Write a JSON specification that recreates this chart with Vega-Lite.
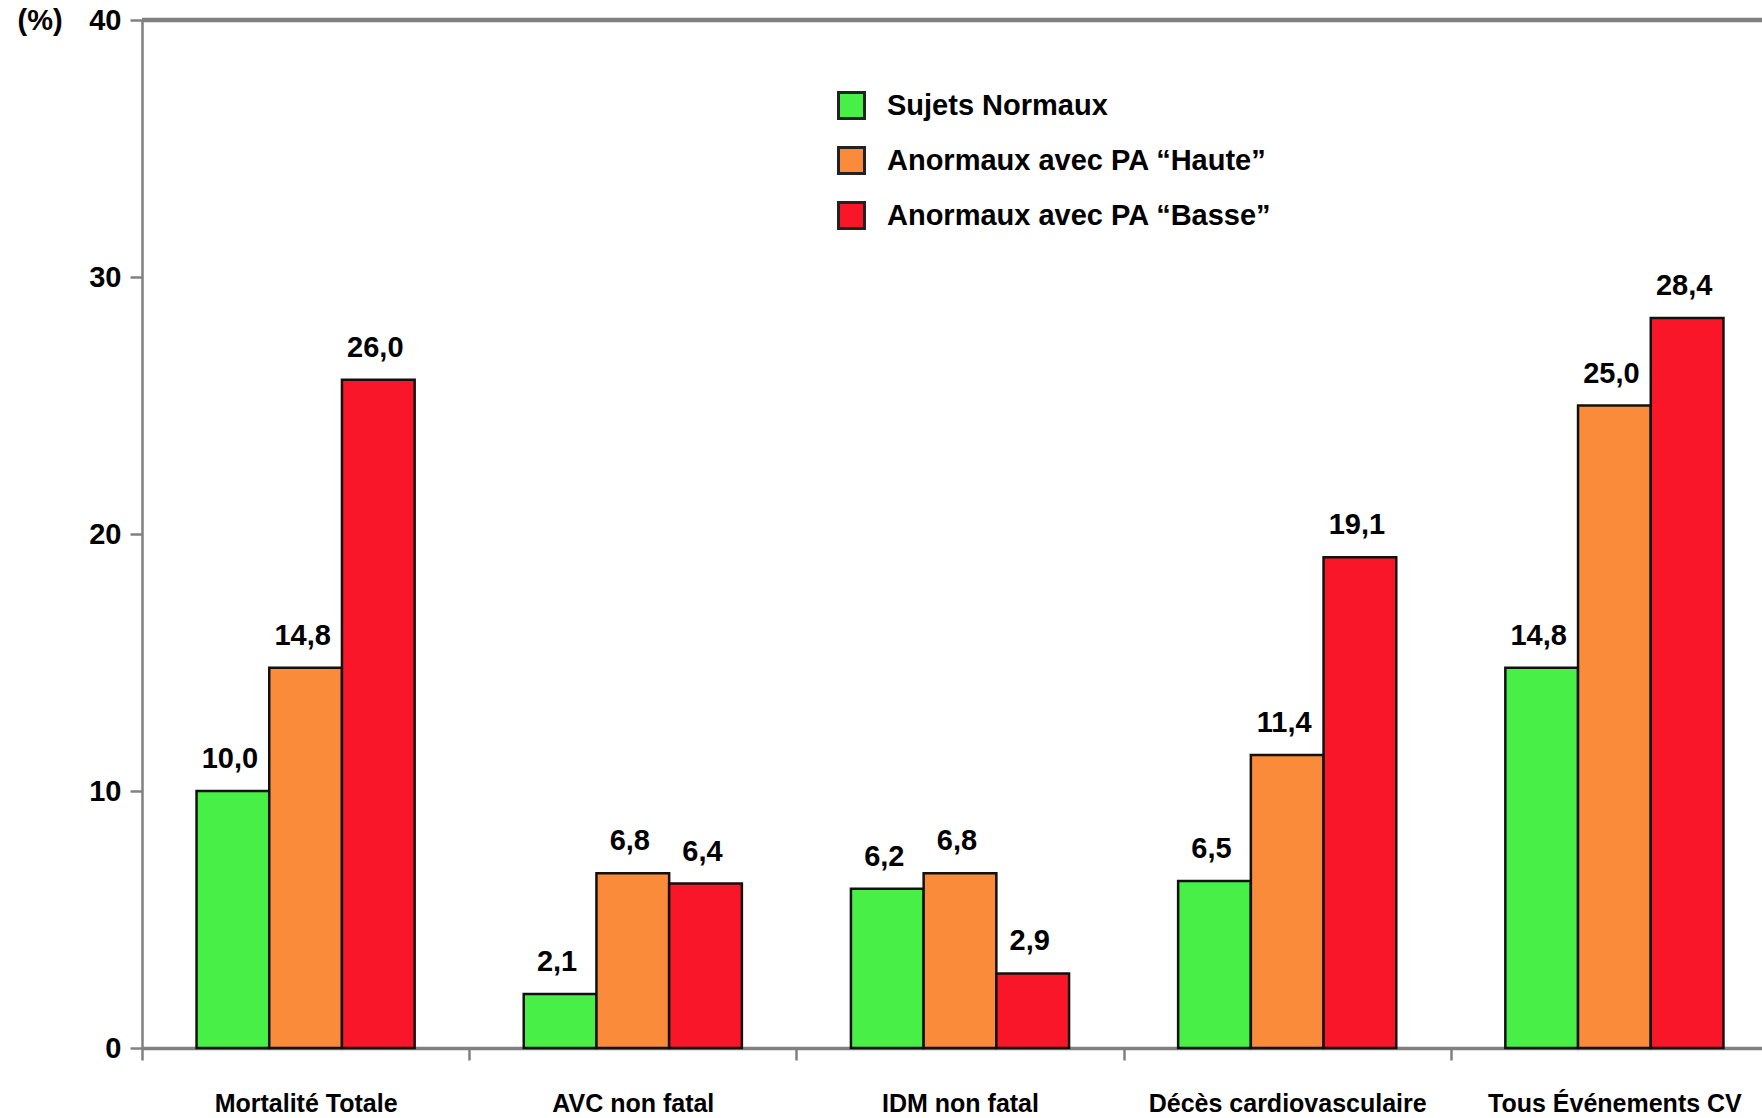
{
  "$schema": "https://vega.github.io/schema/vega-lite/v6.json",
  "autosize": {"type": "none"},
  "padding": {"left": 142, "top": 20, "right": 0, "bottom": 70},
  "width": 1620,
  "height": 1028,
  "background": "white",
  "config": {
    "view": {"stroke": null},
    "font": "Liberation Sans",
    "locale": {"number": {"decimal": ",", "thousands": " ", "grouping": [3], "currency": ["", " €"]}}
  },
  "data": {
    "values": [
      {"cat": "Mortalité Totale", "grp": "Sujets Normaux", "v": 10.0},
      {"cat": "Mortalité Totale", "grp": "Anormaux avec PA “Haute”", "v": 14.8},
      {"cat": "Mortalité Totale", "grp": "Anormaux avec PA “Basse”", "v": 26.0},
      {"cat": "AVC non fatal", "grp": "Sujets Normaux", "v": 2.1},
      {"cat": "AVC non fatal", "grp": "Anormaux avec PA “Haute”", "v": 6.8},
      {"cat": "AVC non fatal", "grp": "Anormaux avec PA “Basse”", "v": 6.4},
      {"cat": "IDM non fatal", "grp": "Sujets Normaux", "v": 6.2},
      {"cat": "IDM non fatal", "grp": "Anormaux avec PA “Haute”", "v": 6.8},
      {"cat": "IDM non fatal", "grp": "Anormaux avec PA “Basse”", "v": 2.9},
      {"cat": "Décès cardiovasculaire", "grp": "Sujets Normaux", "v": 6.5},
      {"cat": "Décès cardiovasculaire", "grp": "Anormaux avec PA “Haute”", "v": 11.4},
      {"cat": "Décès cardiovasculaire", "grp": "Anormaux avec PA “Basse”", "v": 19.1},
      {"cat": "Tous Événements CV", "grp": "Sujets Normaux", "v": 14.8},
      {"cat": "Tous Événements CV", "grp": "Anormaux avec PA “Haute”", "v": 25.0},
      {"cat": "Tous Événements CV", "grp": "Anormaux avec PA “Basse”", "v": 28.4}
    ]
  },
  "encoding": {
    "x": {
      "field": "cat", "type": "nominal", "sort": null,
      "scale": {"paddingInner": 0, "paddingOuter": 0, "range": [0, 1636]},
      "axis": {
        "title": null, "labelAngle": 0, "tickBand": "extent",
        "domainColor": "#808080", "domainWidth": 3.5,
        "tickColor": "#808080", "tickWidth": 2.5, "tickSize": 12,
        "labelFont": "Liberation Sans", "labelFontWeight": "bold",
        "labelFontSize": 25, "labelColor": "black", "labelPadding": 31, "labelLimit": 0
      }
    },
    "xOffset": {
      "field": "grp", "type": "nominal",
      "sort": ["Sujets Normaux", "Anormaux avec PA “Haute”", "Anormaux avec PA “Basse”"],
      "scale": {"paddingInner": 0, "paddingOuter": 0.75}
    },
    "y": {
      "field": "v", "type": "quantitative",
      "scale": {"domain": [0, 40], "nice": false},
      "axis": {
        "values": [0, 10, 20, 30, 40], "grid": false,
        "domainColor": "#808080", "domainWidth": 2.5,
        "tickColor": "#808080", "tickWidth": 2.5, "tickSize": 12,
        "labelFont": "Liberation Sans", "labelFontWeight": "bold", "labelFontSize": 29,
        "labelColor": "black", "labelPadding": 9, "labelBaseline": "middle",
        "title": "(%)", "titleAngle": 0, "titleAlign": "left", "titleBaseline": "middle",
        "titleX": -125, "titleY": 0, "titleFont": "Liberation Sans",
        "titleFontWeight": "bold", "titleFontSize": 29, "titleColor": "black"
      }
    }
  },
  "layer": [
    {
      "mark": {"type": "rule", "color": "#808080", "strokeWidth": 4.5},
      "data": {"values": [{"t": 40}]},
      "encoding": {"x": null, "xOffset": null, "y": {"field": "t", "type": "quantitative"}}
    },
    {
      "mark": {"type": "bar", "stroke": "#111111", "strokeWidth": 2.5},
      "encoding": {
        "color": {
          "field": "grp", "type": "nominal",
          "scale": {
            "domain": ["Sujets Normaux", "Anormaux avec PA “Haute”", "Anormaux avec PA “Basse”"],
            "range": ["#47ef47", "#f98b3b", "#fa1629"]
          },
          "legend": {
            "title": null, "orient": "none", "legendX": 695, "legendY": 71,
            "symbolType": "square", "symbolSize": 676,
            "symbolStrokeColor": "#222222", "symbolStrokeWidth": 3,
            "labelFont": "Liberation Sans", "labelFontWeight": "bold",
            "labelFontSize": 29, "labelColor": "black", "labelOffset": 21,
            "rowPadding": 16, "padding": 0, "labelLimit": 600
          }
        }
      }
    },
    {
      "mark": {"type": "text", "baseline": "alphabetic", "dy": -23, "dx": -3, "font": "Liberation Sans", "fontWeight": "bold", "fontSize": 29, "color": "black"},
      "encoding": {
        "text": {"field": "v", "type": "quantitative", "format": ".1f"}
      }
    }
  ]
}
